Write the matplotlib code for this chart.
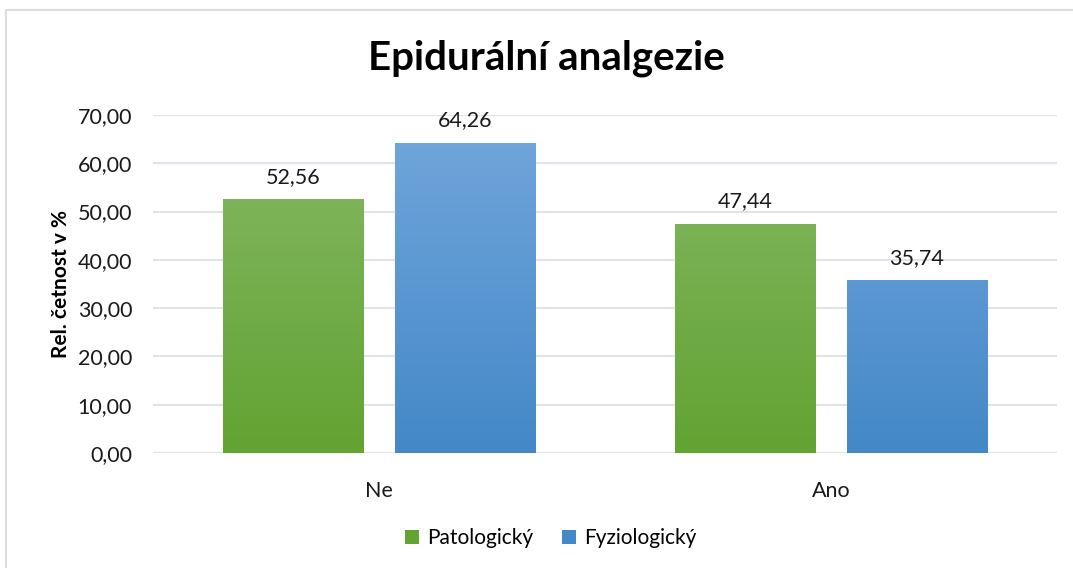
import numpy as np
import matplotlib.pyplot as plt
from matplotlib.patches import Rectangle, Patch
from matplotlib.colors import LinearSegmentedColormap

plt.rcParams['font.family'] = ['Lato', 'DejaVu Sans']

# data
categories = ['Ne', 'Ano']
series_names = ['Patologický', 'Fyziologický']
patologicky = [52.56, 47.44]
fyziologicky = [64.26, 35.74]
y_ticks = [0, 10, 20, 30, 40, 50, 60, 70]

# colours (top, bottom of gradient)
green = ('#86B966', '#62A332')
blue = ('#72A7DB', '#4488C8')
grid_col = '#DFE3EA'

W, H = 1073, 568
fig = plt.figure(figsize=(W / 100, H / 100), dpi=100)

# outer chart border (runs off the right and bottom edges)
fig.patches.append(Rectangle((6 / W, -0.05), 1.1, 1.05 - 10 / H, transform=fig.transFigure,
                             fill=False, edgecolor='#D9DEE6', linewidth=1.5))

# plot area: x 153..1057, y 115..453 (pixels)
ax = fig.add_axes([153 / W, 1 - 453 / H, (1057 - 153) / W, (453 - 115) / H])

x = np.arange(len(categories))
bw = 0.31
off = 0.19


def gradient_bars(xpos, vals, cols):
    bars = ax.bar(xpos, vals, width=bw, color='none', edgecolor='none', zorder=3)
    cmap = LinearSegmentedColormap.from_list('g', [cols[1], cols[0]])
    grad = np.linspace(0, 1, 256).reshape(-1, 1)
    for b in bars:
        x0 = b.get_x()
        im = ax.imshow(grad, cmap=cmap, origin='lower', aspect='auto',
                       extent=[x0, x0 + b.get_width(), 0, 70], zorder=3)
        im.set_clip_path(b)
    for xi, v in zip(xpos, vals):
        ax.text(xi, v + 2.6, f'{v:.2f}'.replace('.', ','), ha='center', va='bottom',
                fontsize=15.5, color='#1a1a1a')
    return bars


gradient_bars(x - off, patologicky, green)
gradient_bars(x + off, fyziologicky, blue)
ax.set_xlim(-0.5, 1.5)
ax.set_ylim(0, 70)

ax.set_yticks(y_ticks)
ax.set_yticklabels([f'{t:.2f}'.replace('.', ',') for t in y_ticks], fontsize=15.5, color='#1a1a1a')
ax.set_xticks(x)
ax.set_xticklabels(categories, fontsize=15.5, color='#1a1a1a')
ax.tick_params(axis='y', length=0, pad=15)
ax.tick_params(axis='x', length=0, pad=20)
for s in ax.spines.values():
    s.set_visible(False)
ax.grid(axis='y', color=grid_col, linewidth=1.5, zorder=0)
ax.set_axisbelow(True)

ax.set_ylabel('Rel. četnost v %', fontsize=15, fontweight='bold', labelpad=5)

fig.text(546 / W, 1 - 58 / H, 'Epidurální analgezie', ha='center', va='center',
         fontsize=29, fontweight='bold')

handles = [Patch(facecolor=green[1], label=series_names[0]),
           Patch(facecolor=blue[1], label=series_names[1])]
fig.legend(handles=handles, loc='center', bbox_to_anchor=(551 / W, 1 - 538 / H),
           ncol=2, frameon=False, fontsize=15, handlelength=0.65, handleheight=0.65,
           handletextpad=0.4, columnspacing=1.4)

fig.savefig('out.png', dpi=100)
